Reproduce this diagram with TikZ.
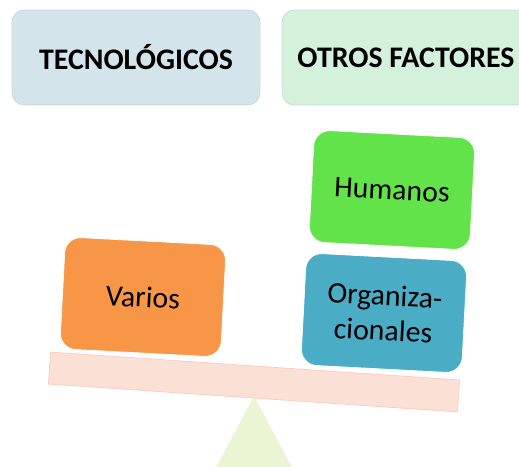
\documentclass[tikz,border=0pt]{standalone}
\usepackage{fontspec}
\setmainfont{Carlito}

\definecolor{cajaAzul}{HTML}{D3E4EA}
\definecolor{cajaVerde}{HTML}{D4F1DC}
\definecolor{naranja}{HTML}{F79646}
\definecolor{turquesa}{HTML}{4BACC6}
\definecolor{verdeVivo}{HTML}{62E34A}
\definecolor{tabla}{HTML}{FBE0D6}
\definecolor{soporte}{HTML}{EAF5D3}

\tikzset{
	titulo/.style={rounded corners=7pt, minimum width=4.96cm, minimum height=1.9cm, font=\fontsize{17}{20}\selectfont\bfseries},
	factor/.style={rounded corners=9pt, rotate=-3, minimum width=3.22cm, minimum height=2.24cm, draw=white, thin, align=center, font=\fontsize{17}{20}\selectfont}
}

\begin{document}
\begin{tikzpicture}[x=0.02cm, y=-0.02cm]

	\def \ancho{519};
	\def \alto{466};

	\useasboundingbox (0,0) rectangle (\ancho,\alto);
	\clip (0,0) rectangle (\ancho,\alto);

	% TITULOS
	\node[titulo, fill=cajaAzul, draw=cajaAzul!85!gray] (tecno) at (136,57.5) {TECNOLÓGICOS};
	\node[titulo, fill=cajaVerde, draw=cajaVerde!85!gray] (otros) at (406,57.5) {OTROS FACTORES};

	% BALANZA
	\fill[soporte] (254,396) -- (212,475) -- (296,475) -- cycle;
	\node[fill=tabla, draw=tabla!90!red, rotate=-3.9, minimum width=8.2cm, minimum height=0.64cm, inner sep=0pt] (balanza) at (254,382) {};

	% FACTORES
	\node[factor, fill=naranja] (varios) at (143,297) {Varios};
	\node[factor, fill=turquesa] (organiza) at (384,313) {Organiza-\\cionales};
	\node[factor, fill=verdeVivo] (humanos) at (392,190) {Humanos};

\end{tikzpicture}
\end{document}
